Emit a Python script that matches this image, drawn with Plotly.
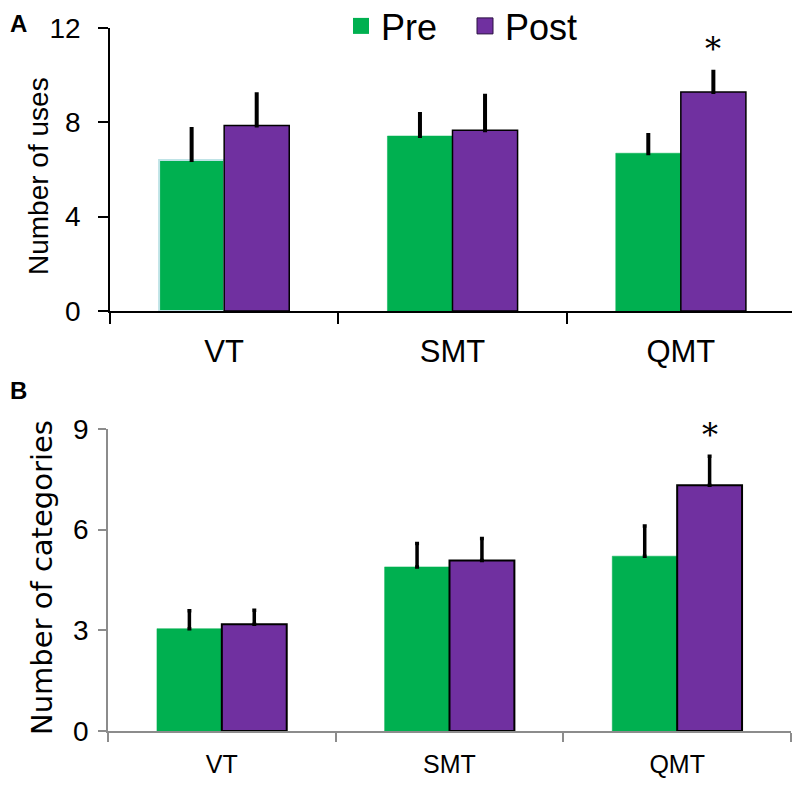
import plotly.graph_objects as go

categories = ["VT", "SMT", "QMT"]
series = ["Pre", "Post"]

uses_pre = [6.40, 7.42, 6.69]
uses_pre_err = [1.32, 0.93, 0.77]
uses_post = [7.87, 7.66, 9.29]
uses_post_err = [1.32, 1.47, 0.86]

cats_pre = [3.05, 4.89, 5.21]
cats_pre_err = [0.53, 0.70, 0.90]
cats_post = [3.18, 5.08, 7.32]
cats_post_err = [0.42, 0.66, 0.87]

sig_category = "QMT"
ytitle_a = "Number of uses"
ytitle_b = "Number of categories"

GREEN = "#00B050"
PURPLE = "#7030A0"
W, H = 792, 774
OFF = 8  # page body margin


def fx(p):
    return (p - OFF) / W


def fy(p):
    return 1 - (p - OFF) / H


fig = go.Figure()

zeros = [0, 0, 0]
fig.add_trace(go.Bar(
    x=categories, y=uses_pre, name=series[0], xaxis="x", yaxis="y", showlegend=False,
    marker=dict(color=GREEN, line=dict(color=["#bfe3e6", GREEN, GREEN], width=[2, 0.5, 0.5])),
    error_y=dict(type="data", symmetric=False, array=uses_pre_err, arrayminus=zeros,
                 color="black", thickness=4, width=2),
    legendgroup="pre"))
fig.add_trace(go.Bar(
    x=categories, y=uses_post, name=series[1], xaxis="x", yaxis="y", showlegend=False,
    marker=dict(color=PURPLE, line=dict(color="black", width=1.5)),
    error_y=dict(type="data", symmetric=False, array=uses_post_err, arrayminus=zeros,
                 color="black", thickness=4, width=2),
    legendgroup="post"))
fig.add_trace(go.Bar(
    x=categories, y=cats_pre, name=series[0], xaxis="x2", yaxis="y2", showlegend=False,
    marker=dict(color=GREEN, line=dict(color=GREEN, width=0.5)),
    error_y=dict(type="data", symmetric=False, array=cats_pre_err, arrayminus=zeros,
                 color="black", thickness=3.5, width=2),
    legendgroup="pre"))
fig.add_trace(go.Bar(
    x=categories, y=cats_post, name=series[1], xaxis="x2", yaxis="y2", showlegend=False,
    marker=dict(color=PURPLE, line=dict(color="black", width=2)),
    error_y=dict(type="data", symmetric=False, array=cats_post_err, arrayminus=zeros,
                 color="black", thickness=3.5, width=2),
    legendgroup="post"))

# legend entries (larger square swatches than bar legend icons)
fig.add_trace(go.Scatter(x=[None], y=[None], mode="markers", name=series[0], legendgroup="pre",
                         marker=dict(symbol="square", size=18, color=GREEN, line=dict(width=0)),
                         xaxis="x", yaxis="y"))
fig.add_trace(go.Scatter(x=[None], y=[None], mode="markers", name=series[1], legendgroup="post",
                         marker=dict(symbol="square", size=18, color=PURPLE,
                                     line=dict(width=1, color="#2a1040")),
                         xaxis="x", yaxis="y"))

BARGAP = 0.43
post_offset = (1 - BARGAP) / 4
si = categories.index(sig_category)

font_main = "Liberation Sans, Arial, sans-serif"

fig.update_layout(
    width=W, height=H,
    margin=dict(l=0, r=0, t=0, b=0, autoexpand=False),
    paper_bgcolor="white", plot_bgcolor="white",
    barmode="group", bargap=BARGAP, bargroupgap=0,
    showlegend=True,
    legend=dict(orientation="h", x=fx(341), y=fy(-4), xanchor="left", yanchor="top",
                font=dict(family=font_main, size=36, color="black"),
                entrywidth=79, tracegroupgap=0, bgcolor="rgba(0,0,0,0)"),
    xaxis=dict(domain=[fx(110), fx(795)], anchor="y", range=[-0.5, 2.5],
               showline=True, linecolor="black", linewidth=1.5,
               ticks="outside", tickson="boundaries", ticklen=11, tickcolor="black", tickwidth=1.5,
               ticklabelstandoff=12,
               tickfont=dict(family=font_main, size=31, color="black"), showgrid=False,
               zeroline=False),
    yaxis=dict(domain=[fy(311), fy(28)], anchor="x", range=[0, 12], dtick=4,
               showline=True, linecolor="black", linewidth=1.5,
               ticks="outside", ticklen=10, tickcolor="black", tickwidth=1.5,
               ticklabelstandoff=12,
               tickfont=dict(family=font_main, size=28, color="black"), showgrid=False,
               zeroline=False),
    xaxis2=dict(domain=[fx(108), fx(791)], anchor="y2", range=[-0.5, 2.5],
                showline=True, linecolor="#8c8c8c", linewidth=1.5,
                ticks="outside", tickson="boundaries", ticklen=9, tickcolor="#8c8c8c", tickwidth=1.5,
                ticklabelstandoff=10,
                tickfont=dict(family=font_main, size=25, color="black"), showgrid=False,
                zeroline=False),
    yaxis2=dict(domain=[fy(731), fy(429)], anchor="x2", range=[0, 9], dtick=3,
                showline=True, linecolor="#8c8c8c", linewidth=1.5,
                ticks="outside", ticklen=8, tickcolor="#8c8c8c", tickwidth=1.5,
                ticklabelstandoff=4,
                tickfont=dict(family=font_main, size=28, color="black"), showgrid=False,
                zeroline=False),
    annotations=[
        dict(text=ytitle_a, x=fx(39), y=fy(176), xref="paper", yref="paper", textangle=-90,
             xanchor="center", yanchor="middle", showarrow=False,
             font=dict(family=font_main, size=28, color="black")),
        dict(text=ytitle_b, x=fx(42), y=fy(578), xref="paper", yref="paper", textangle=-90,
             xanchor="center", yanchor="middle", showarrow=False,
             font=dict(family="DejaVu Sans, sans-serif", size=29, color="black")),
        dict(text="<b>A</b>", x=0, y=1, xref="paper", yref="paper",
             xanchor="left", yanchor="top", showarrow=False,
             font=dict(family=font_main, size=24, color="black")),
        dict(text="<b>B</b>", x=0, y=fy(390.5), xref="paper", yref="paper",
             xanchor="left", yanchor="middle", showarrow=False,
             font=dict(family=font_main, size=24, color="black")),
        dict(text="*", x=si + post_offset, y=uses_post[si] + uses_post_err[si], xref="x", yref="y",
             xanchor="center", yanchor="bottom", yshift=2, showarrow=False,
             font=dict(family="DejaVu Serif, Liberation Serif, serif", size=32, color="black")),
        dict(text="*", x=si + post_offset, y=cats_post[si] + cats_post_err[si], xref="x2", yref="y2",
             xanchor="center", yanchor="bottom", yshift=0, showarrow=False,
             font=dict(family="DejaVu Serif, Liberation Serif, serif", size=32, color="black")),
    ],
)

fig.write_html("out.html")
